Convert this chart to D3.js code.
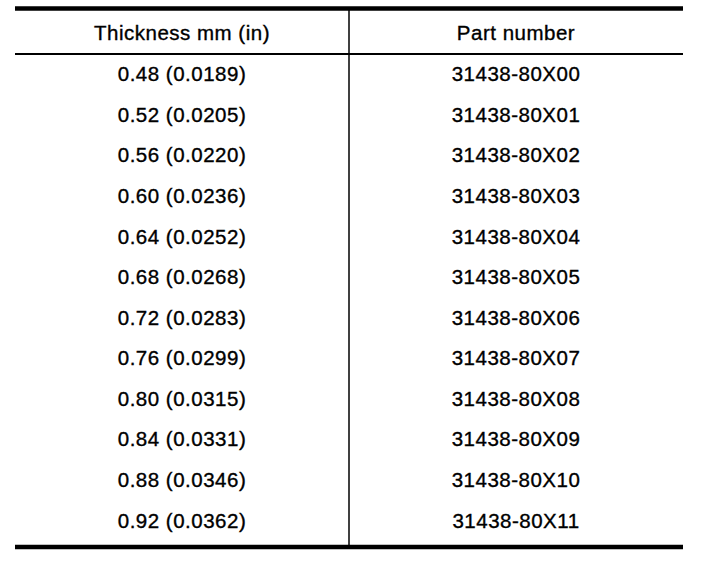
<!DOCTYPE html>
<html lang="en">
<head>
<meta charset="UTF-8">
<title>Shim thickness table</title>
<script src="https://cdn.jsdelivr.net/npm/d3@7"></script>
<style>
    body {
        margin: 0;
        background: #ffffff;
    }
    svg {
        display: block;
    }
    .cell {
        font-family: "Liberation Sans", Arial, Helvetica, sans-serif;
        font-size: 20.5px;
        letter-spacing: 0.5px;
        fill: #000;
        stroke: #000;
        stroke-width: 0.35px;
    }
</style>
</head>
<body>
<svg id="chart" width="704" height="568"></svg>
<script>
// table data
const columns = ["Thickness mm (in)", "Part number"];
const thickness = [
    "0.48 (0.0189)", "0.52 (0.0205)", "0.56 (0.0220)", "0.60 (0.0236)",
    "0.64 (0.0252)", "0.68 (0.0268)", "0.72 (0.0283)", "0.76 (0.0299)",
    "0.80 (0.0315)", "0.84 (0.0331)", "0.88 (0.0346)", "0.92 (0.0362)"
];
const partNumbers = [
    "31438-80X00", "31438-80X01", "31438-80X02", "31438-80X03",
    "31438-80X04", "31438-80X05", "31438-80X06", "31438-80X07",
    "31438-80X08", "31438-80X09", "31438-80X10", "31438-80X11"
];

const svg = d3.select("#chart");

const xLeft = 15, xRight = 683;
const yTop = 8.5, yHeader = 54, yBody = 541, yBottom = 547;

const x = d3.scaleBand()
    .domain(columns)
    .range([xLeft, xRight]);

const y = d3.scaleBand()
    .domain(d3.range(thickness.length))
    .range([yHeader, yBody]);

// rules
svg.append("line")
    .attr("x1", xLeft).attr("x2", xRight)
    .attr("y1", yTop).attr("y2", yTop)
    .attr("stroke", "#000").attr("stroke-width", 4.5);

svg.append("line")
    .attr("x1", xLeft).attr("x2", xRight)
    .attr("y1", yHeader).attr("y2", yHeader)
    .attr("stroke", "#000").attr("stroke-width", 2);

svg.append("line")
    .attr("x1", xLeft).attr("x2", xRight)
    .attr("y1", yBottom).attr("y2", yBottom)
    .attr("stroke", "#000").attr("stroke-width", 4.5);

const divX = x(columns[1]);
svg.append("line")
    .attr("x1", divX).attr("x2", divX)
    .attr("y1", yTop).attr("y2", yBottom)
    .attr("stroke", "#000").attr("stroke-width", 1.5);

// header
svg.selectAll("text.head")
    .data(columns)
    .enter()
    .append("text")
    .attr("class", "cell head")
    .attr("x", d => x(d) + x.bandwidth() / 2)
    .attr("y", (yTop + yHeader) / 2 + 3)
    .attr("text-anchor", "middle")
    .attr("dominant-baseline", "middle")
    .text(d => d);

// body
const rows = thickness.map((t, i) => [t, partNumbers[i]]);

const rowG = svg.selectAll("g.row")
    .data(rows)
    .enter()
    .append("g")
    .attr("class", "row")
    .attr("transform", (d, i) => `translate(0, ${y(i) + y.bandwidth() / 2 + 1.5})`);

rowG.selectAll("text")
    .data(d => d)
    .enter()
    .append("text")
    .attr("class", "cell")
    .attr("x", (d, j) => x(columns[j]) + x.bandwidth() / 2)
    .attr("text-anchor", "middle")
    .attr("dominant-baseline", "middle")
    .text(d => d);
</script>
</body>
</html>
